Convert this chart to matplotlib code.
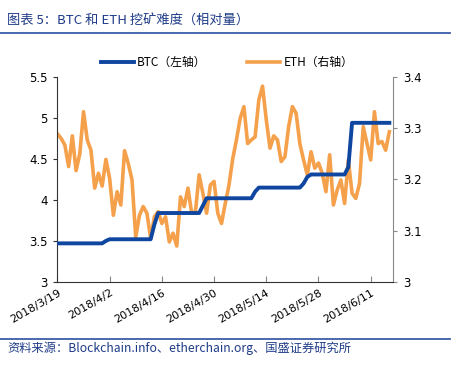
import matplotlib
matplotlib.use("Agg")
import matplotlib.pyplot as plt
import numpy as np
import pandas as pd
from matplotlib.lines import Line2D

plt.rcParams['font.family'] = ['Noto Sans CJK SC', 'DejaVu Sans']

dates = pd.date_range("2018-03-19", periods=90, freq="D")

btc = [3.47]*13 + [3.50] + [3.52]*12 + [3.70] + [3.84]*12 + [3.93] + [4.02]*13 + [4.10] + \
      [4.15]*12 + [4.20, 4.28] + [4.31]*10 + [4.40] + [4.94]*11

eth = [3.289, 3.280, 3.267, 3.225, 3.285, 3.217, 3.250, 3.332, 3.277, 3.257,
       3.183, 3.212, 3.187, 3.239, 3.202, 3.130, 3.176, 3.150, 3.256, 3.231,
       3.199, 3.088, 3.130, 3.147, 3.134, 3.085, 3.127, 3.137, 3.114, 3.127,
       3.078, 3.095, 3.070, 3.166, 3.147, 3.183, 3.134, 3.137, 3.209, 3.173,
       3.134, 3.189, 3.196, 3.134, 3.114, 3.153, 3.189, 3.240, 3.277, 3.319,
       3.342, 3.270, 3.277, 3.283, 3.355, 3.382, 3.316, 3.261, 3.285, 3.277,
       3.235, 3.244, 3.303, 3.342, 3.329, 3.270, 3.238, 3.209, 3.254, 3.222,
       3.232, 3.212, 3.176, 3.248, 3.150, 3.179, 3.199, 3.153, 3.238, 3.173,
       3.163, 3.192, 3.303, 3.270, 3.238, 3.332, 3.270, 3.274, 3.257, 3.293]

tick_dates = ["2018-03-19", "2018-04-02", "2018-04-16", "2018-04-30",
              "2018-05-14", "2018-05-28", "2018-06-11"]
tick_labels = ["2018/3/19", "2018/4/2", "2018/4/16", "2018/4/30",
               "2018/5/14", "2018/5/28", "2018/6/11"]
left_ticks = [3, 3.5, 4, 4.5, 5, 5.5]
left_labels = ["3", "3.5", "4", "4.5", "5", "5.5"]
right_ticks = [3, 3.1, 3.2, 3.3, 3.4]
right_labels = ["3", "3.1", "3.2", "3.3", "3.4"]

BLUE = "#0f46a0"
ORANGE = "#f5a04b"
TXT = "#1f3c88"
NUMFONT = ['DejaVu Sans']

fig = plt.figure(figsize=(4.63, 3.68), dpi=100)
ax = fig.add_axes([0.124, 0.234, 0.725, 0.557])
ax2 = ax.twinx()

ax.plot(dates, btc, color=BLUE, lw=2.8, zorder=3)
ax2.plot(dates, eth, color=ORANGE, lw=2.6, zorder=2)
ax.set_zorder(ax2.get_zorder() + 1)
ax.patch.set_visible(False)

ax.set_ylim(3, 5.5)
ax2.set_ylim(3, 3.4)
ax.set_xlim(pd.Timestamp("2018-03-19"), pd.Timestamp("2018-03-19") + pd.Timedelta(days=90))

ax.set_yticks(left_ticks)
ax.set_yticklabels(left_labels, fontsize=8.5, family=NUMFONT)
ax2.set_yticks(right_ticks)
ax2.set_yticklabels(right_labels, fontsize=8.5, family=NUMFONT)
ax.set_xticks(pd.to_datetime(tick_dates))
ax.set_xticklabels(tick_labels, fontsize=8, rotation=30, ha='right', rotation_mode='anchor',
                   family=NUMFONT)

for a in (ax, ax2):
    a.spines['top'].set_visible(False)
ax.spines['right'].set_visible(False)
ax2.spines['left'].set_visible(False)
ax2.spines['bottom'].set_visible(False)
ax.spines['left'].set_color('#333333')
ax.spines['bottom'].set_color('#333333')
ax2.spines['right'].set_color('#888888')
ax.tick_params(axis='y', direction='out', length=3, color='#333333', pad=4)
ax.tick_params(axis='x', direction='in', length=4, color='#888888', pad=4)
ax2.tick_params(axis='y', direction='out', length=3, color='#888888', pad=4)

handles = [Line2D([], [], color=BLUE, lw=2.8), Line2D([], [], color=ORANGE, lw=2.6)]
fig.legend(handles, ["BTC（左轴）", "ETH（右轴）"], loc='center', bbox_to_anchor=(0.49, 0.83),
           ncol=2, frameon=False, fontsize=8.5, handlelength=2.8, columnspacing=3.4,
           handletextpad=0.3)

fig.text(0.015, 0.943, "图表 5：BTC 和 ETH 挖矿难度（相对量）", fontsize=9.5, color=TXT,
         va='center', ha='left')
fig.add_artist(Line2D([0.0, 0.972], [0.91, 0.91], color="#3a5ea8", lw=1.3, transform=fig.transFigure))
fig.add_artist(Line2D([0.0, 0.972], [0.079, 0.079], color="#3a5ea8", lw=1.3, transform=fig.transFigure))
fig.text(0.015, 0.054, "资料来源：Blockchain.info、etherchain.org、国盛证券研究所", fontsize=8.8,
         color=TXT, va='center', ha='left')

fig.savefig("out.png", dpi=100)
